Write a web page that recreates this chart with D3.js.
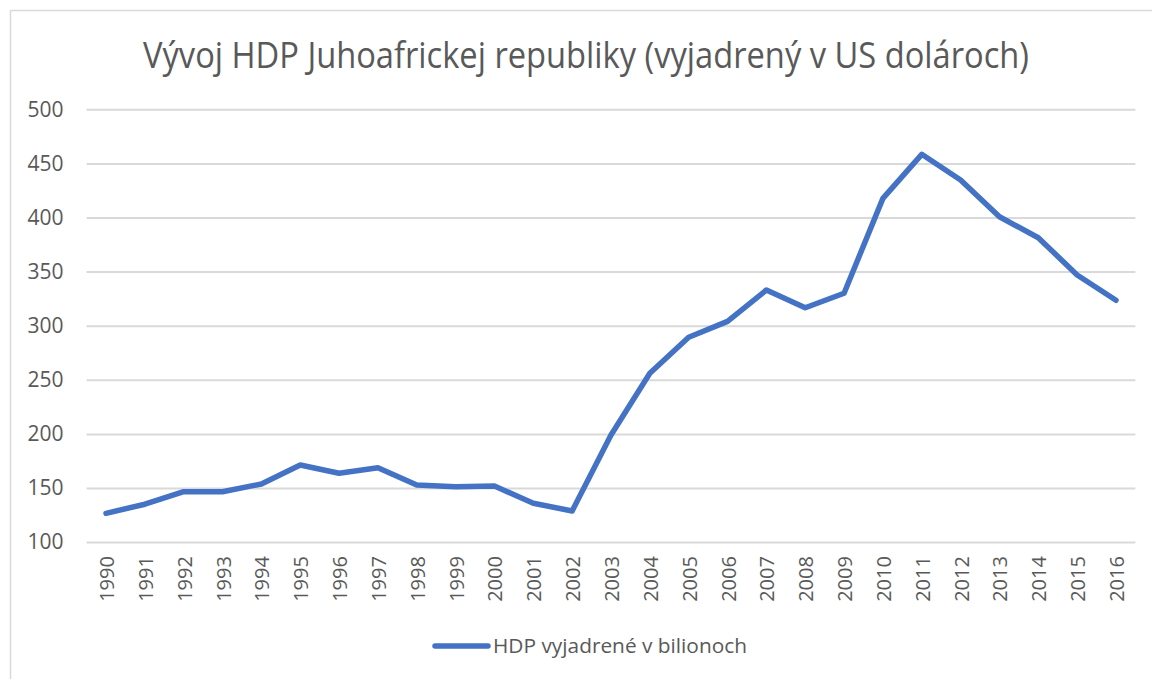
<!DOCTYPE html>
<html>
<head>
<meta charset="utf-8">
<script src="https://cdn.jsdelivr.net/npm/d3@7"></script>
<style>
  html, body { margin: 0; padding: 0; background: #fff; }
  svg { display: block; }
  text { font-family: "Open Sans", "Noto Sans", sans-serif; fill: #595959; }
</style>
</head>
<body>
<svg id="chart" width="1152" height="679"></svg>
<script>
// chart data
var title = "Vývoj HDP Juhoafrickej republiky (vyjadrený v US dolároch)";
var seriesName = "HDP vyjadrené v bilionoch";
var years = [1990, 1991, 1992, 1993, 1994, 1995, 1996, 1997, 1998, 1999,
             2000, 2001, 2002, 2003, 2004, 2005, 2006, 2007, 2008, 2009,
             2010, 2011, 2012, 2013, 2014, 2015, 2016];
var gdp = [126.6, 135, 146.6, 146.6, 153.7, 171.3, 163.6, 168.8, 152.8, 151.2,
           151.8, 135.9, 128.8, 199, 256, 289.3, 304, 333, 316.6, 330,
           417.7, 458.4, 434.7, 400.7, 381.3, 346.9, 323.5];
var yTicks = [100, 150, 200, 250, 300, 350, 400, 450, 500];

var svg = d3.select("#chart");

var margin = { left: 86.6, right: 1135.4, top: 109.3, bottom: 542.1 };

var x = d3.scalePoint()
    .domain(years)
    .range([margin.left, margin.right])
    .padding(0.5);

var y = d3.scaleLinear()
    .domain([100, 500])
    .range([margin.bottom, margin.top]);

// outer chart border (only top and left edges fall inside the view)
svg.append("rect")
    .attr("x", 10.5)
    .attr("y", 10.5)
    .attr("width", 1170)
    .attr("height", 700)
    .attr("fill", "none")
    .attr("stroke", "#d9d9d9")
    .attr("stroke-width", 1.5);

// title
svg.append("text")
    .attr("x", 586)
    .attr("y", 68)
    .attr("text-anchor", "middle")
    .attr("font-size", 37)
    .attr("textLength", 886)
    .attr("lengthAdjust", "spacingAndGlyphs")
    .text(title);

// horizontal gridlines + y labels
var yAxis = d3.axisLeft(y)
    .tickValues(yTicks)
    .tickSize(-(margin.right - margin.left))
    .tickPadding(23)
    .tickFormat(d3.format("d"));

var gy = svg.append("g")
    .attr("transform", "translate(" + margin.left + ",0)")
    .call(yAxis);

gy.select(".domain").remove();
gy.selectAll(".tick line")
    .attr("stroke", "#d9d9d9")
    .attr("stroke-width", 2);
gy.selectAll(".tick text")
    .attr("font-size", 21)
    .attr("font-family", null)
    .attr("fill", "#595959");

// x labels, rotated
var xAxis = d3.axisBottom(x)
    .tickSize(0)
    .tickPadding(0);

var gx = svg.append("g")
    .attr("transform", "translate(0," + margin.bottom + ")")
    .call(xAxis);

gx.select(".domain").remove();
gx.selectAll(".tick text")
    .attr("font-size", 20)
    .attr("font-family", null)
    .attr("fill", "#595959")
    .attr("text-anchor", "end")
    .attr("dy", null)
    .attr("y", 0)
    .attr("transform", "translate(7.5,14) rotate(-90)");

// the series line
var line = d3.line()
    .x(function (d, i) { return x(years[i]); })
    .y(function (d) { return y(d); });

svg.append("path")
    .datum(gdp)
    .attr("d", line)
    .attr("fill", "none")
    .attr("stroke", "#4472c4")
    .attr("stroke-width", 5.5)
    .attr("stroke-linejoin", "round")
    .attr("stroke-linecap", "round");

// legend
var legend = svg.append("g");

legend.append("line")
    .attr("x1", 435)
    .attr("x2", 488)
    .attr("y1", 646)
    .attr("y2", 646)
    .attr("stroke", "#4472c4")
    .attr("stroke-width", 5.5)
    .attr("stroke-linecap", "round");

legend.append("text")
    .attr("x", 493)
    .attr("y", 653)
    .attr("font-size", 20)
    .attr("textLength", 254)
    .attr("lengthAdjust", "spacingAndGlyphs")
    .text(seriesName);
</script>
</body>
</html>
